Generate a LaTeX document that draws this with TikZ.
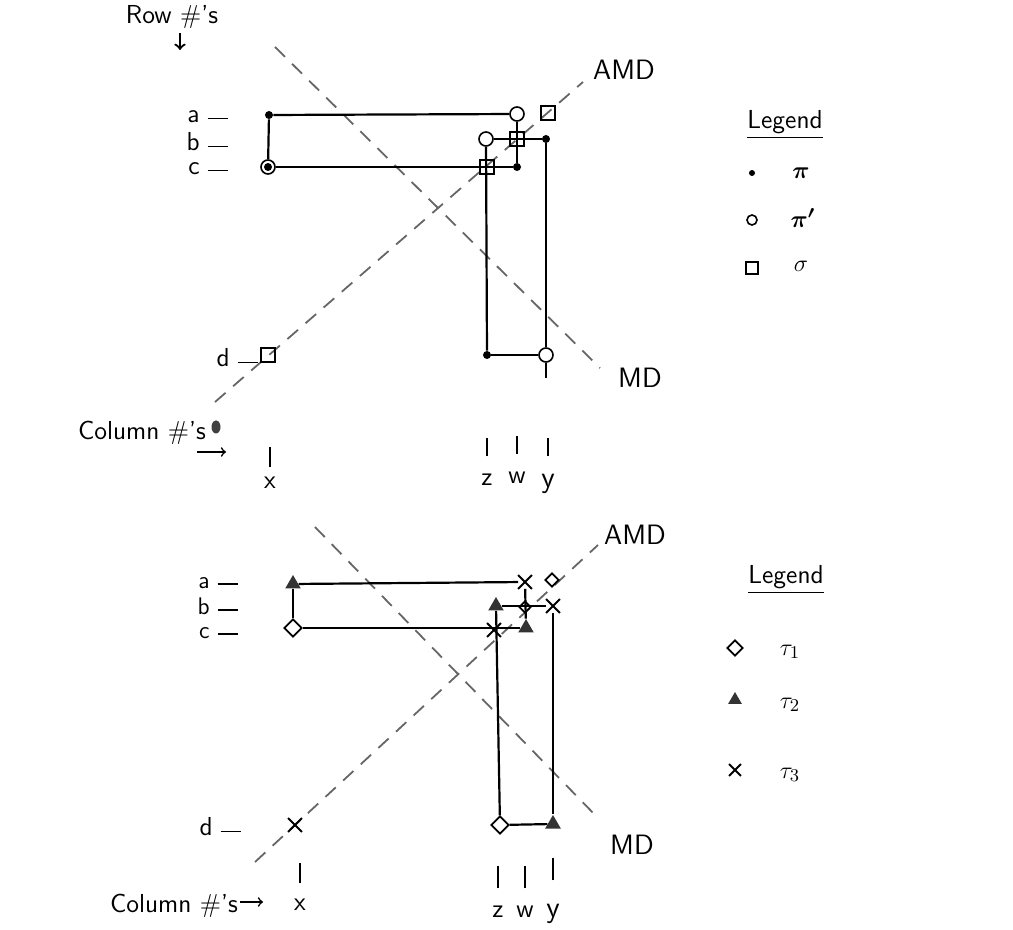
\documentclass[tikz,border=0pt]{standalone}
\usepackage{amsmath}
\usepackage{amssymb}
\usetikzlibrary{shapes.geometric,shapes.misc}

\tikzset{
  pidot/.style={circle,fill=black,inner sep=0pt,minimum size=4pt},
  piopen/.style={circle,draw,line width=0.8pt,inner sep=0pt,minimum size=7pt},
  sigmabox/.style={rectangle,draw,line width=0.8pt,inner sep=0pt,minimum size=7pt},
  tauone/.style={diamond,draw,line width=0.9pt,inner sep=0pt,minimum size=9pt},
  tautwo/.style={regular polygon,regular polygon sides=3,fill=black!80,inner sep=0pt,minimum size=9pt},
  tauthree/.style={cross out,draw,line width=0.9pt,inner sep=0pt,minimum size=6pt},
  ink/.style={line width=1.1pt},
  diag/.style={line width=0.9pt,black!60,dash pattern=on 7pt off 5pt},
  hand/.style={font=\sffamily\fontsize{13}{15}\selectfont,inner sep=0.75pt},
  rowlab/.style={hand,anchor=east,inner sep=0pt},
}
\newcommand{\rowdash}[1]{#1\hspace{4pt}\rule[0.3ex]{10pt}{0.9pt}}

\begin{document}
\begin{tikzpicture}[x=0.5pt,y=0.5pt,yscale=-1,xscale=1]
\useasboundingbox (0,0) rectangle (1013,930);

%%%%%%%%%%%%%%%% upper diagram
% Text Node
\node[hand] (toprow) at (172,17) {Row \#'s};
\coordinate (toprowa) at (180,33);
\coordinate (toprowb) at (180,50);
\draw[ink,->] (toprowa) -- (toprowb);
% Text Node
\node[rowlab] (topa) at (228,117) {\rowdash{a}};
\node[rowlab] (topb) at (228,142) {\rowdash{b}};
\node[rowlab] (topc) at (228,169) {\rowdash{c}};
\node[rowlab] (topd) at (258,358) {\rowdash{d}};

% dashed diagonals
\coordinate (topmds) at (275,47);
\coordinate (topmde) at (600,368);
\coordinate (topamds) at (215,402);
\coordinate (topamde) at (583,82);
\draw[diag] (topmds) -- (topmde);
\draw[diag] (topamds) -- (topamde);
\node[hand,font=\sffamily\fontsize{14}{16}\selectfont] (topmd) at (640,378) {MD};
\node[hand,font=\sffamily\fontsize{14}{16}\selectfont] (topamd) at (624,70) {AMD};

% marks pi, pi', sigma
\node[pidot] (topxa) at (269,115) {};
\node[piopen] (topxc) at (268,167) {};
\node[pidot] (topxcdot) at (268,167) {};
\node[piopen] (topwa) at (517,114) {};
\node[sigmabox] (topya) at (548,113) {};
\node[piopen] (topzb) at (486,139) {};
\node[sigmabox] (topwb) at (517,139) {};
\node[pidot] (topyb) at (546,139) {};
\node[sigmabox] (topzc) at (487,167) {};
\node[pidot] (topwc) at (517,167) {};
\node[sigmabox] (topxd) at (268,355) {};
\node[pidot] (topzd) at (487,355) {};
\node[piopen] (topyd) at (546,355) {};
\coordinate (topytail) at (546,378);

%Straight Lines
\draw[ink] (topxa) -- (topwa);
\draw[ink] (topwa) -- (topwc);
\draw[ink] (topwc) -- (topxc);
\draw[ink] (topxc) -- (topxa);
\draw[ink] (topzb) -- (topyb);
\draw[ink] (topyb) -- (topyd);
\draw[ink] (topyd) -- (topzd);
\draw[ink] (topzd) -- (topzb);
\draw[ink] (topyd) -- (topytail);

% Text Node
\node[hand] (topcols) at (142,433) {Column \#'s};
\node[ellipse,fill=black!75,inner sep=0pt,minimum width=4.5pt,minimum height=6.5pt] (topblob) at (216,427) {};
\coordinate (topcolsa) at (197,452);
\coordinate (topcolsb) at (226,452);
\draw[line width=0.8pt,->] (topcolsa) -- (topcolsb);
\node[hand] (topcolx) at (270,483) {x};
\node[hand] (topcolz) at (487,480) {z};
\node[hand] (topcolw) at (517,478) {w};
\node[hand,font=\sffamily\fontsize{15}{17}\selectfont] (topcoly) at (548,484) {y};
\draw[ink] (topcolx.north) ++(0,-8) -- ++(0,-20);
\draw[ink] (topcolz.north) ++(0,-16) -- ++(0,-18);
\draw[ink] (topcolw.north) ++(0,-16) -- ++(0,-18);
\draw[ink] (topcoly.north) ++(0,-16) -- ++(0,-18);

% legend
\node[hand] (toplegend) at (785,125) {\underline{Legend}};
\node[pidot,minimum size=3pt] (toplegpi) at (752,173) {};
\node[piopen,minimum size=5pt] (toplegpip) at (752,220) {};
\node[sigmabox,minimum size=6pt] (toplegsig) at (752,268) {};
\node[hand] (toplegpit) at (801,173) {$\boldsymbol{\pi}$};
\node[hand] (toplegpipt) at (803,218) {$\boldsymbol{\pi'}$};
\node[hand] (toplegsigt) at (801,266) {$\sigma$};

%%%%%%%%%%%%%%%% lower diagram
% Text Node
\node[rowlab,font=\sffamily\fontsize{12}{14}\selectfont] (bota) at (238,583) {\rowdash{a}};
\node[rowlab,font=\sffamily\fontsize{12}{14}\selectfont] (botb) at (238,606) {\rowdash{b}};
\node[rowlab,font=\sffamily\fontsize{12}{14}\selectfont] (botc) at (238,633) {\rowdash{c}};
\node[rowlab] (botd) at (241,827) {\rowdash{d}};

% dashed diagonals
\coordinate (botmds) at (315,527);
\coordinate (botmde) at (598,818);
\coordinate (botamds) at (255,862);
\coordinate (botamde) at (598,545);
\draw[diag] (botmds) -- (botmde);
\draw[diag] (botamds) -- (botamde);
\node[hand,font=\sffamily\fontsize{14}{16}\selectfont] (botmd) at (632,845) {MD};
\node[hand,font=\sffamily\fontsize{14}{16}\selectfont] (botamd) at (635,535) {AMD};

% marks tau_1, tau_2, tau_3
\node[tautwo] (botxa) at (293,584) {};
\node[tauone] (botxc) at (293,628) {};
\node[tauthree] (botwa) at (525,582) {};
\node[tauone,minimum size=7pt] (botya) at (552,580) {};
\node[tautwo] (botzb) at (496,606) {};
\node[tauone,minimum size=6pt] (botwb) at (525,607) {};
\node[tauthree] (botyb) at (553,606) {};
\node[tauthree] (botzc) at (494,630) {};
\node[tautwo] (botwc) at (526,628) {};
\node[tauthree] (botxd) at (295,825) {};
\node[tauone] (botzd) at (500,825) {};
\node[tautwo] (botyd) at (553,824) {};

%Straight Lines
\draw[ink] (botxa) -- (botwa);
\draw[ink] (botwa) -- (botwc);
\draw[ink] (botwc) -- (botxc);
\draw[ink] (botxc) -- (botxa);
\draw[ink] (botzb) -- (botyb);
\draw[ink] (botyb) -- (botyd);
\draw[ink] (botyd) -- (botzd);
\draw[ink] (botzd) -- (botzb);

% Text Node
\node[hand] (botcols) at (174,906) {Column \#'s};
\coordinate (botcolsa) at (240,902);
\coordinate (botcolsb) at (263,902);
\draw[line width=0.8pt,->] (botcolsa) -- (botcolsb);
\node[hand] (botcolx) at (300,905) {x};
\node[hand] (botcolz) at (498,912) {z};
\node[hand] (botcolw) at (525,912) {w};
\node[hand,font=\sffamily\fontsize{15}{17}\selectfont] (botcoly) at (553,914) {y};
\draw[ink] (botcolx.north) ++(0,-14) -- ++(0,-20);
\draw[ink] (botcolz.north) ++(0,-16) -- ++(0,-22);
\draw[ink] (botcolw.north) ++(0,-16) -- ++(0,-22);
\draw[ink] (botcoly.north) ++(0,-22) -- ++(0,-22);

% legend
\node[hand] (botlegend) at (786,580) {\underline{Legend}};
\node[tauone,minimum size=8pt] (boflegone) at (735,648) {};
\node[tautwo,minimum size=8pt] (boflegtwo) at (735,700) {};
\node[tauthree,minimum size=5pt] (boflegthree) at (735,770) {};
\node[hand] (boflegonet) at (790,652) {$\tau_1$};
\node[hand] (boflegtwot) at (790,705) {$\tau_2$};
\node[hand] (boflegthreet) at (790,775) {$\tau_3$};

\end{tikzpicture}
\end{document}
